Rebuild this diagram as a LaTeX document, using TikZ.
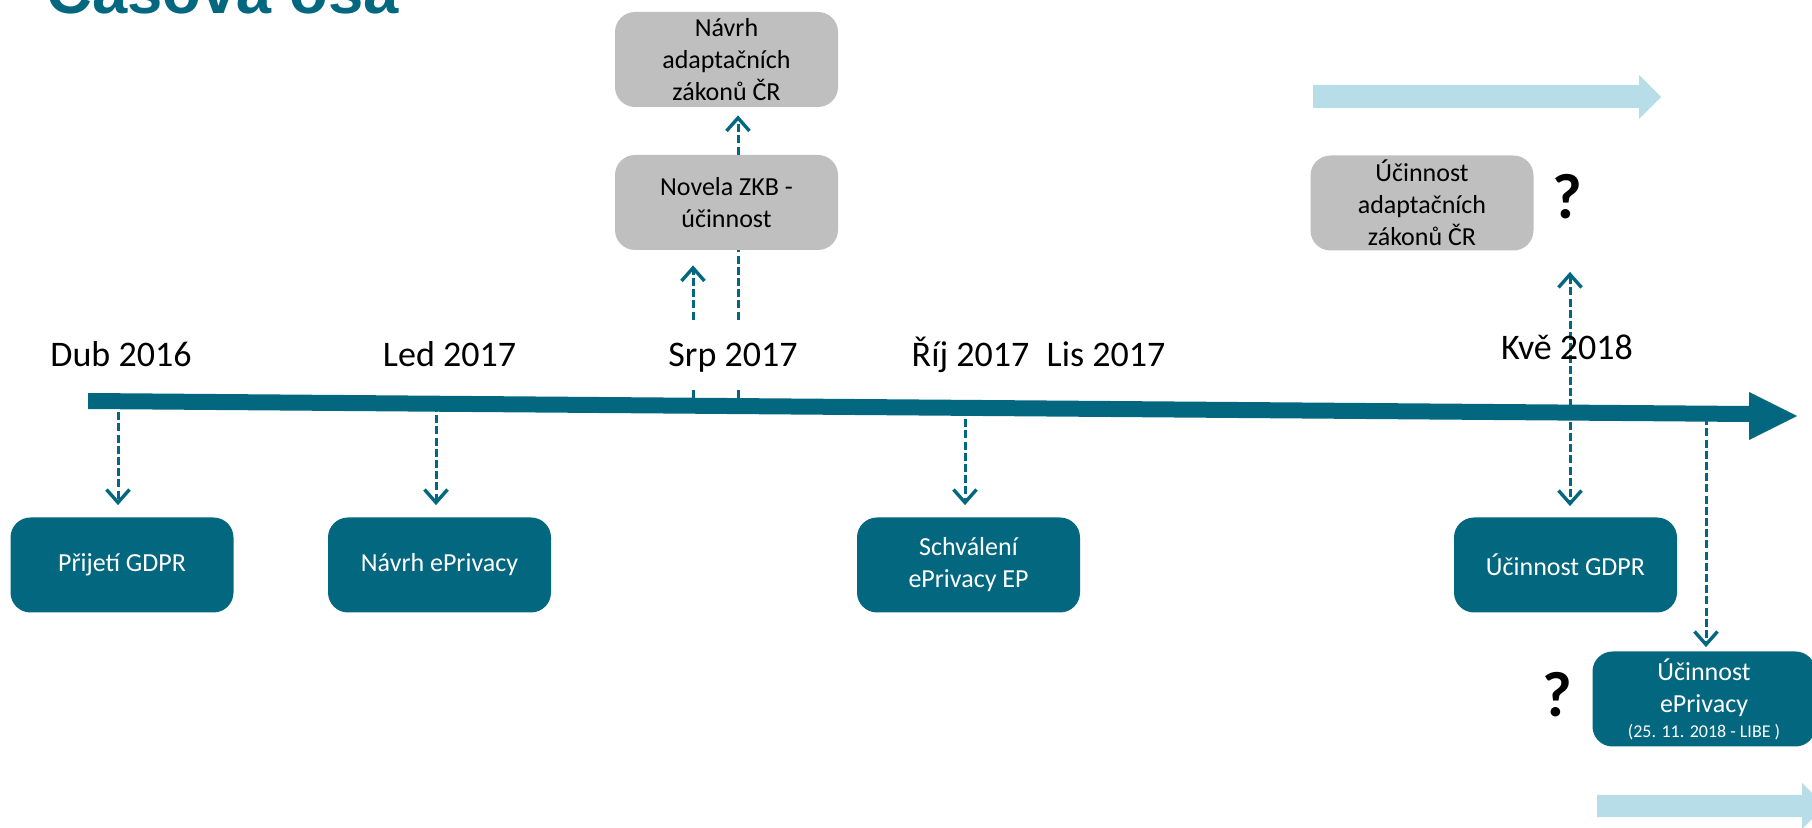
\documentclass[tikz,border=0pt]{standalone}
\usepackage{fontspec}
\setmainfont{Carlito}
\newfontfamily\titlefont{Liberation Sans}
\usetikzlibrary{arrows.meta}
\definecolor{teal1}{RGB}{3,104,127}
\definecolor{gray1}{RGB}{191,191,191}
\definecolor{lblue}{RGB}{183,222,232}
\begin{document}
\begin{tikzpicture}[x=0.5pt,y=-0.5pt,
  boxbase/.style={rounded corners=10pt, minimum width=111.5pt, minimum height=47.5pt, inner sep=0pt, align=center, font=\fontsize{13}{16}\selectfont},
  tealbox/.style={boxbase, fill=teal1, text=white},
  graybox/.style={boxbase, fill=gray1, text=black},
  datelabel/.style={anchor=base, inner sep=0pt, font=\fontsize{18}{20}\selectfont},
  qmark/.style={anchor=base, inner sep=0pt, font=\fontsize{32}{36}\selectfont\bfseries},
  barb/.tip={Straight Barb[length=6.5pt,width=11.5pt,line width=1.7pt]},
  conn/.style={draw=teal1, line width=1.5pt, dash pattern=on 4pt off 1.6pt, -barb},
  bigarrow/.style={fill=lblue, draw=none},
]
\useasboundingbox (0,0) rectangle (1812,828);
\clip (0,0) rectangle (1812,828);

% title
\node[anchor=base west, inner sep=0pt, text=teal1, font=\titlefont\fontsize{31.7}{36}\selectfont\bfseries] (title) at (46,14) {Časová osa};

% light blue arrows
\fill[bigarrow] (1313,85) -- (1639,85) -- (1639,75) -- (1661,97) -- (1639,119) -- (1639,108) -- (1313,108) -- cycle;
\fill[bigarrow] (1597,795) -- (1802,795) -- (1802,783) -- (1825,806) -- (1802,829) -- (1802,817) -- (1597,817) -- cycle;

% boxes
\node[graybox] (nav) at (726.5,59.5) {Návrh\\adaptačních\\zákonů ČR};
\node[graybox] (nov) at (726.5,202.5) {Novela ZKB -\\účinnost};
\node[graybox] (ucad) at (1422,203) {Účinnost\\adaptačních\\zákonů ČR};
\node[tealbox] (prij) at (122,565) {Přijetí GDPR};
\node[tealbox] (navp) at (439.5,565) {Návrh ePrivacy};
\node[tealbox] (schv) at (968.5,565) {Schválení\\ePrivacy EP};
\node[tealbox] (ugdpr) at (1565.5,565) {Účinnost GDPR};
\node[tealbox] (uepr) at (1704,699) {Účinnost\\ePrivacy\\[-3.5pt]{\fontsize{9}{11}\selectfont (25. 11. 2018 - LIBE )}};

% question marks
\node[qmark] (q1) at (1567,219) {?};
\node[qmark] (q2) at (1557,717) {?};

% main axis
\fill[teal1] (88,393) -- (1749,406) -- (1749,392) -- (1797,416) -- (1749,440) -- (1749,422) -- (88,409) -- cycle;

% points on the axis
\coordinate (dub) at (118,401);
\coordinate (led) at (436,404);
\coordinate (srpa) at (693,398);
\coordinate (srpb) at (738,398);
\coordinate (rij) at (965,408);
\coordinate (kve) at (1570,412);
\coordinate (epr) at (1706,406);

% connectors
\draw[conn, shorten >=6pt] (dub) -- (dub |- prij.north);
\draw[conn, shorten >=6pt] (led) -- (led |- navp.north);
\draw[conn, shorten >=6pt] (rij) -- (rij |- schv.north);
\draw[conn, shorten >=2pt] (epr) -- (epr |- uepr.north);
\draw[conn, barb-barb, shorten <=10.5pt, shorten >=5.5pt] (kve |- ucad.south) -- (kve |- ugdpr.north);
\draw[conn, shorten >=7.5pt] (srpa) -- (srpa |- nov.south);
\draw[conn, -] (srpb) -- (srpb |- nov.south);
\draw[conn, shorten >=4pt] (srpb |- nov.north) -- (srpb |- nav.south);

% date labels
\node[datelabel] (l1) at (121,367) {Dub 2016};
\node[datelabel] (l2) at (449.5,367) {Led 2017};
\node[datelabel, fill=white, inner xsep=3pt, text height=22.5pt, text depth=10pt] (l3) at (733,367) {Srp 2017};
\node[datelabel] (l4) at (970.5,367) {Říj 2017};
\node[datelabel] (l5) at (1106,367) {Lis 2017};
\node[datelabel] (l6) at (1567,360) {Kvě 2018};
\end{tikzpicture}
\end{document}
